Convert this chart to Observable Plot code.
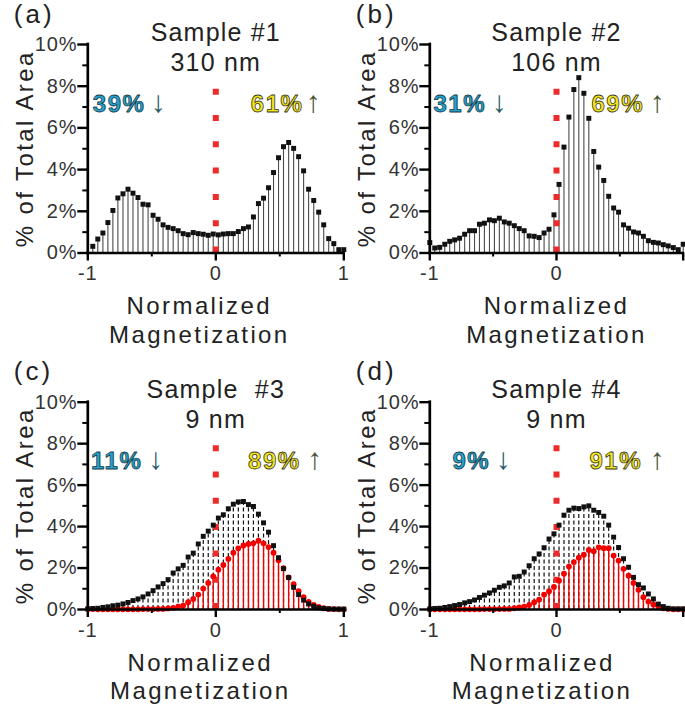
<!DOCTYPE html>
<html>
<head>
<meta charset="utf-8">
<script src="https://cdn.jsdelivr.net/npm/d3@7"></script>
<script src="https://cdn.jsdelivr.net/npm/@observablehq/plot@0.6"></script>
<style>
  body { margin: 0; background: #fff; }
  #root { position: relative; width: 685px; height: 711px; overflow: hidden; background: #fff; }
  .panel { position: absolute; }
</style>
</head>
<body>
<div id="root"></div>
<script>
// ---- data ----
const magnetization = [-1.000,-0.961,-0.922,-0.882,-0.843,-0.804,-0.765,-0.725,-0.686,-0.647,-0.608,-0.569,-0.529,-0.490,-0.451,-0.412,-0.373,-0.333,-0.294,-0.255,-0.216,-0.176,-0.137,-0.098,-0.059,-0.020,0.020,0.059,0.098,0.137,0.176,0.216,0.255,0.294,0.333,0.373,0.412,0.451,0.490,0.529,0.569,0.608,0.647,0.686,0.725,0.765,0.804,0.843,0.882,0.922,0.961,1.000];

// Sample #1 (starts at second bin)
const areaSample1 = [0.32,0.67,0.96,1.46,2.04,2.64,2.84,3.06,2.87,2.66,2.34,2.31,1.81,1.62,1.35,1.23,1.17,1.07,0.93,0.88,0.98,0.93,0.90,0.85,0.91,0.87,0.91,0.93,0.93,1.03,1.17,1.25,1.73,2.37,2.63,3.13,3.86,4.57,5.10,5.30,5.02,4.62,3.94,3.06,2.52,1.96,1.35,0.69,0.45,0.16,0.16];
const areaSample2 = [0.50,0.24,0.27,0.42,0.56,0.63,0.71,0.90,1.07,1.07,1.38,1.43,1.59,1.55,1.67,1.49,1.43,1.31,1.17,1.07,0.82,0.80,0.74,0.96,1.14,1.83,3.29,5.08,6.52,7.84,8.41,7.66,6.46,4.87,4.12,3.48,2.72,2.16,1.96,1.35,1.19,1.01,0.96,0.80,0.59,0.51,0.48,0.40,0.34,0.26,0.16,0.42];
const areaSample3Total = [0.03,0.05,0.06,0.10,0.13,0.18,0.21,0.27,0.34,0.43,0.51,0.61,0.75,0.91,1.09,1.25,1.44,1.76,1.96,2.13,2.53,2.72,3.16,3.53,3.78,4.07,4.41,4.57,4.86,5.08,5.19,5.21,5.06,4.97,4.60,4.18,3.73,3.08,2.50,1.97,1.54,1.07,0.72,0.45,0.27,0.16,0.08,0.05,0.03,0.02,0.02,0.02];
const areaSample3Red = [0.02,0.02,0.01,0.01,0.01,0.01,0.01,0.01,0.01,0.01,0.01,0.02,0.02,0.02,0.03,0.03,0.05,0.08,0.14,0.19,0.35,0.51,0.72,1.01,1.28,1.60,1.92,2.15,2.44,2.74,2.95,3.09,3.16,3.19,3.32,3.19,3.01,2.74,2.37,2.00,1.55,1.22,0.88,0.59,0.37,0.22,0.13,0.06,0.03,0.02,0.01,0.01];
const areaSample4Total = [0.03,0.05,0.06,0.10,0.14,0.19,0.24,0.32,0.38,0.46,0.58,0.69,0.80,0.93,1.07,1.14,1.28,1.57,1.60,1.81,2.11,2.45,2.68,2.98,3.40,3.65,4.07,4.55,4.79,4.89,4.87,4.95,5.00,4.79,4.68,4.50,4.07,3.49,2.99,2.45,2.04,1.55,1.20,1.04,0.75,0.51,0.26,0.14,0.06,0.03,0.03,0.03];
const areaSample4Red = [0.01,0.01,0.01,0.01,0.01,0.01,0.01,0.01,0.01,0.01,0.01,0.02,0.02,0.02,0.02,0.03,0.03,0.06,0.10,0.14,0.22,0.35,0.48,0.72,0.88,1.09,1.39,1.73,2.07,2.29,2.50,2.64,2.87,2.81,3.00,2.96,2.96,2.60,2.36,1.96,1.63,1.28,0.95,0.59,0.38,0.24,0.14,0.06,0.03,0.01,0.01,0.01];

const panelLetters = ["(a)", "(b)", "(c)", "(d)"];
const sampleTitles = ["Sample #1", "Sample #2", "Sample  #3", "Sample #4"];
const thicknesses = ["310 nm", "106 nm", "9 nm", "9 nm"];
const downShares = ["39%", "31%", "11%", "9%"];
const upShares = ["61%", "69%", "89%", "91%"];
const yTicks = [0, 2, 4, 6, 8, 10];
const yMinorTicks = [1, 3, 5, 7, 9];
const xTicks = [-1, 0, 1];
const xTickLabelsRight = [-1, 0];   // the "1" label of the right-hand panels falls outside the picture
const xMinorTicks = [-0.5, 0.5];
const yLabel = "% of Total Area";
const xLabelLines = ["Normalized", "Magnetization"];

// ---- build ----
const FONT = '"Liberation Sans", Arial, Helvetica, sans-serif';
const series = (xs, vs) => vs.map((v, i) => ({x: xs[i], v}));

const panels = [
  {left: 0, top: 0, width: 350, height: 355, ml: 87.3, mr: 6.7, mt: 44, mb: 102.5,
   black: series(magnetization.slice(1), areaSample1), red: null, xLabels: xTicks,
   downDx: 5, downArrowDx: 63, upDx: 163, upArrowDx: 218, xLabelDx: -16.5},
  {left: 342, top: 0, width: 343, height: 355, ml: 87.3, mr: 2.3, mt: 44, mb: 102.5,
   black: series(magnetization, areaSample2), red: null, xLabels: xTickLabelsRight,
   downDx: 3.7, downArrowDx: 62, upDx: 161.7, upArrowDx: 220, xLabelDx: 0},
  {left: 0, top: 355, width: 350, height: 356, ml: 87.3, mr: 6.7, mt: 46.7, mb: 102,
   black: series(magnetization, areaSample3Total), red: series(magnetization, areaSample3Red), xLabels: xTicks,
   downDx: 3.3, downArrowDx: 60.5, upDx: 160.3, upArrowDx: 219.5, xLabelDx: -15.5},
  {left: 342, top: 355, width: 343, height: 356, ml: 87.3, mr: 2.3, mt: 46.7, mb: 102,
   black: series(magnetization, areaSample4Total), red: series(magnetization, areaSample4Red), xLabels: xTickLabelsRight,
   downDx: 22.7, downArrowDx: 66, upDx: 159.7, upArrowDx: 220, xLabelDx: -14.5}
];

const spacingFor = (t) => {
  if (t === yLabel || xLabelLines.includes(t)) return "2.4px";
  if (panelLetters.includes(t)) return "3px";
  if (sampleTitles.includes(t) || thicknesses.includes(t)) return "1.2px";
  if (downShares.includes(t) || upShares.includes(t)) return "1.5px";
  if (/^-?\d+%?$/.test(t)) return "0.8px";
  return null;
};

const root = document.getElementById("root");
panels.forEach((p, i) => {
  const fw = p.width - p.ml - p.mr;
  const fh = p.height - p.mt - p.mb;
  const txt = {fill: "#222", fontFamily: FONT};
  const marks = [];
  if (p.red) {
    marks.push(Plot.ruleX(p.black, {x: "x", y1: 0, y2: "v", stroke: "#111", strokeWidth: 1.2, strokeDasharray: "4,2.5"}));
    marks.push(Plot.ruleX(p.red, {x: "x", y1: 0, y2: "v", stroke: "#f20000", strokeWidth: 1.4}));
  } else {
    marks.push(Plot.ruleX(p.black, {x: "x", y1: 0, y2: "v", stroke: "#4a4a4a", strokeWidth: 1.1}));
  }
  marks.push(Plot.ruleX([0], {y1: 0, y2: 7.9, stroke: "#ee2b2b", strokeWidth: 6, strokeDasharray: "6,20.3"}));
  if (p.red) marks.push(Plot.dot(p.red, {x: "x", y: "v", r: 2.9, fill: "#f20000"}));
  marks.push(Plot.dot(p.black, {x: "x", y: "v", symbol: "square", r: 2.8, fill: "#111"}));
  // axes
  marks.push(
    Plot.ruleX([-1], {stroke: "#000", strokeWidth: 2.7, strokeLinecap: "square"}),
    Plot.ruleY([0], {stroke: "#000", strokeWidth: 2.7, strokeLinecap: "square"}),
    Plot.tickY(yTicks, {y: d => d, stroke: "#000", strokeWidth: 2.4, insetLeft: -10, insetRight: fw}),
    Plot.tickY(yMinorTicks, {y: d => d, stroke: "#000", strokeWidth: 2, insetLeft: -5, insetRight: fw}),
    Plot.tickX(xTicks, {x: d => d, stroke: "#000", strokeWidth: 2.4, insetTop: fh, insetBottom: -8}),
    Plot.tickX(xMinorTicks, {x: d => d, stroke: "#000", strokeWidth: 2, insetTop: fh, insetBottom: -4}),
    Plot.text(yTicks, {y: d => d, text: d => `${d}%`, frameAnchor: "left", textAnchor: "end", dx: -10.5, fontSize: 20, ...txt, fill: "#333"}),
    Plot.text(p.xLabels, {x: d => d, text: d => String(d), frameAnchor: "bottom", textAnchor: "middle", lineAnchor: "bottom", dy: 27, fontSize: 20, ...txt, fill: "#333"}),
    Plot.text([yLabel], {frameAnchor: "left", textAnchor: "middle", lineAnchor: "middle", rotate: -90, dx: -62, fontSize: 24, ...txt}),
    Plot.text([xLabelLines[0]], {frameAnchor: "bottom", textAnchor: "middle", lineAnchor: "bottom", dx: p.xLabelDx, dy: 61, fontSize: 24, ...txt}),
    Plot.text([xLabelLines[1]], {frameAnchor: "bottom", textAnchor: "middle", lineAnchor: "bottom", dx: p.xLabelDx, dy: 89.5, fontSize: 24, ...txt}),
    // panel texts
    Plot.text([panelLetters[i]], {frameAnchor: "top-left", textAnchor: "start", lineAnchor: "bottom", dx: -74, dy: -22, fontSize: 26, ...txt}),
    Plot.text([sampleTitles[i]], {frameAnchor: "top", textAnchor: "middle", lineAnchor: "bottom", dy: -4, fontSize: 25, ...txt}),
    Plot.text([thicknesses[i]], {frameAnchor: "top", textAnchor: "middle", lineAnchor: "bottom", dy: 26, fontSize: 25, ...txt}),
    Plot.text([downShares[i]], {frameAnchor: "top-left", textAnchor: "start", lineAnchor: "bottom", dx: p.downDx, dy: 67, fontSize: 24, fontWeight: "bold", fontFamily: FONT, fill: "#22a2cc", stroke: "#1d3a46", strokeWidth: 0.8, paintOrder: "normal"}),
    Plot.text(["↓"], {frameAnchor: "top-left", textAnchor: "start", lineAnchor: "bottom", dx: p.downArrowDx, dy: 67, fontSize: 30, fontFamily: FONT, fill: "#1f5a6a"}),
    Plot.text([upShares[i]], {frameAnchor: "top-left", textAnchor: "start", lineAnchor: "bottom", dx: p.upDx, dy: 67, fontSize: 24, fontWeight: "bold", fontFamily: FONT, fill: "#f2e41e", stroke: "#3a3a20", strokeWidth: 0.8, paintOrder: "normal"}),
    Plot.text(["↑"], {frameAnchor: "top-left", textAnchor: "start", lineAnchor: "bottom", dx: p.upArrowDx, dy: 67, fontSize: 30, fontFamily: FONT, fill: "#4a5636"})
  );
  const svg = Plot.plot({
    width: p.width, height: p.height,
    marginLeft: p.ml, marginRight: p.mr, marginTop: p.mt, marginBottom: p.mb,
    x: {domain: [-1, 1], axis: null},
    y: {domain: [0, 10], axis: null},
    style: {fontFamily: FONT, background: "transparent", overflow: "visible"},
    marks
  });
  d3.select(svg).selectAll("text").each(function () {
    const s = spacingFor(this.textContent);
    if (s) this.style.letterSpacing = s;
    this.style.whiteSpace = "pre";
  });
  const div = document.createElement("div");
  div.className = "panel";
  div.style.left = p.left + "px";
  div.style.top = p.top + "px";
  div.appendChild(svg);
  root.appendChild(div);
});
</script>
</body>
</html>
